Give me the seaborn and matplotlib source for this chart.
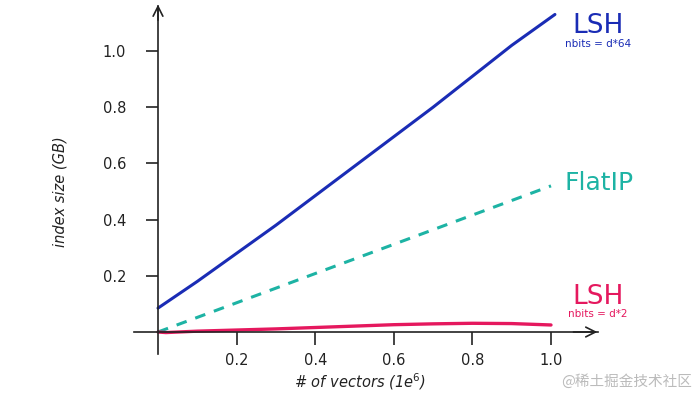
import matplotlib
matplotlib.use("Agg")
import matplotlib.pyplot as plt
import seaborn as sns
import pandas as pd

# number of vectors (millions) and index size (GB) per index
lsh64_x = [0.0, 0.1, 0.2, 0.3, 0.4, 0.5, 0.6, 0.7, 0.8, 0.9, 1.01]
lsh64_y = [0.085, 0.18, 0.28, 0.38, 0.485, 0.59, 0.695, 0.80, 0.91, 1.02, 1.13]
flat_x = [0.0, 0.25, 0.5, 0.75, 1.0]
flat_y = [0.0, 0.13, 0.26, 0.39, 0.52]
lsh2_x = [0.0, 0.02, 0.1, 0.2, 0.3, 0.4, 0.5, 0.6, 0.7, 0.8, 0.9, 1.0]
lsh2_y = [0.0, -0.002, 0.003, 0.007, 0.011, 0.016, 0.021, 0.026, 0.029, 0.031, 0.030, 0.025]

x_ticks = [0.2, 0.4, 0.6, 0.8, 1.0]
y_ticks = [0.2, 0.4, 0.6, 0.8, 1.0]

BLUE = "#1a2cb5"
TEAL = "#1db3a4"
PINK = "#e5185e"

sns.set_style("white")
plt.rcParams["font.family"] = ["DejaVu Sans", "Noto Sans CJK SC"]

fig = plt.figure(figsize=(7, 3.93), dpi=100)
ax = fig.add_axes([0, 0, 1, 1])

df64 = pd.DataFrame({"x": lsh64_x, "y": lsh64_y})
dfflat = pd.DataFrame({"x": flat_x, "y": flat_y})
df2 = pd.DataFrame({"x": lsh2_x, "y": lsh2_y})

sns.lineplot(data=df64, x="x", y="y", ax=ax, color=BLUE, lw=2.2, sort=False)
sns.lineplot(data=dfflat, x="x", y="y", ax=ax, color=TEAL, lw=2.2, sort=False,
             linestyle=(0, (3.5, 3)))
sns.lineplot(data=df2, x="x", y="y", ax=ax, color=PINK, lw=2.4, sort=False)

# data limits chosen so the origin sits where it is in the reference
ax.set_xlim(-158 / 393, 542 / 393)
ax.set_ylim(-61 / 281, 332 / 281)

for s in ["top", "right"]:
    ax.spines[s].set_visible(False)
ax.spines["left"].set_position(("data", 0))
ax.spines["bottom"].set_position(("data", 0))
ax.spines["left"].set_bounds(-0.08, 1.16)
ax.spines["bottom"].set_bounds(-0.06, 1.12)
for s in ["left", "bottom"]:
    ax.spines[s].set_color("#222222")
    ax.spines[s].set_linewidth(1.2)

ax.annotate("", xy=(0, 1.175), xytext=(0, 1.10),
            arrowprops=dict(arrowstyle="->,head_width=0.35,head_length=0.7", color="#222222", lw=1.2))
ax.annotate("", xy=(1.125, 0), xytext=(1.05, 0),
            arrowprops=dict(arrowstyle="->,head_width=0.35,head_length=0.7", color="#222222", lw=1.2))

ax.set_xticks(x_ticks)
ax.set_yticks(y_ticks)
ax.set_xticklabels([f"{v:.1f}" for v in x_ticks], fontsize=10.5, color="#222222")
ax.set_yticklabels([f"{v:.1f}" for v in y_ticks], fontsize=10.5, color="#222222")
ax.tick_params(axis="x", direction="out", length=9, width=1.2, pad=6, colors="#222222", bottom=True)
ax.tick_params(axis="y", direction="out", length=9, width=1.2, pad=14, colors="#222222", left=True)
ax.set_xlabel("")
ax.set_ylabel("")

ax.text(0.514, -0.175, "# of vectors (1e$^6$)", fontsize=10.5, style="italic",
        ha="center", va="center", color="#222222")
ax.text(-0.25, 0.5, "index size (GB)", fontsize=10.5, style="italic", rotation=90,
        ha="center", va="center", color="#222222")

ax.text(1.12, 1.09, "LSH", fontsize=19, color=BLUE, ha="center", va="center")
ax.text(1.12, 1.025, "nbits = d*64", fontsize=7.5, color=BLUE, ha="center", va="center")
ax.text(1.035, 0.53, "FlatIP", fontsize=18, color=TEAL, ha="left", va="center")
ax.text(1.12, 0.125, "LSH", fontsize=19, color=PINK, ha="center", va="center")
ax.text(1.12, 0.064, "nbits = d*2", fontsize=7.5, color=PINK, ha="center", va="center")

ax.text(1.36, -0.175, "@稀土掘金技术社区", fontsize=10.5, color="#bbbbbb",
        ha="right", va="center", family=["Noto Sans CJK SC", "DejaVu Sans"])

fig.savefig("out.png", dpi=100)
